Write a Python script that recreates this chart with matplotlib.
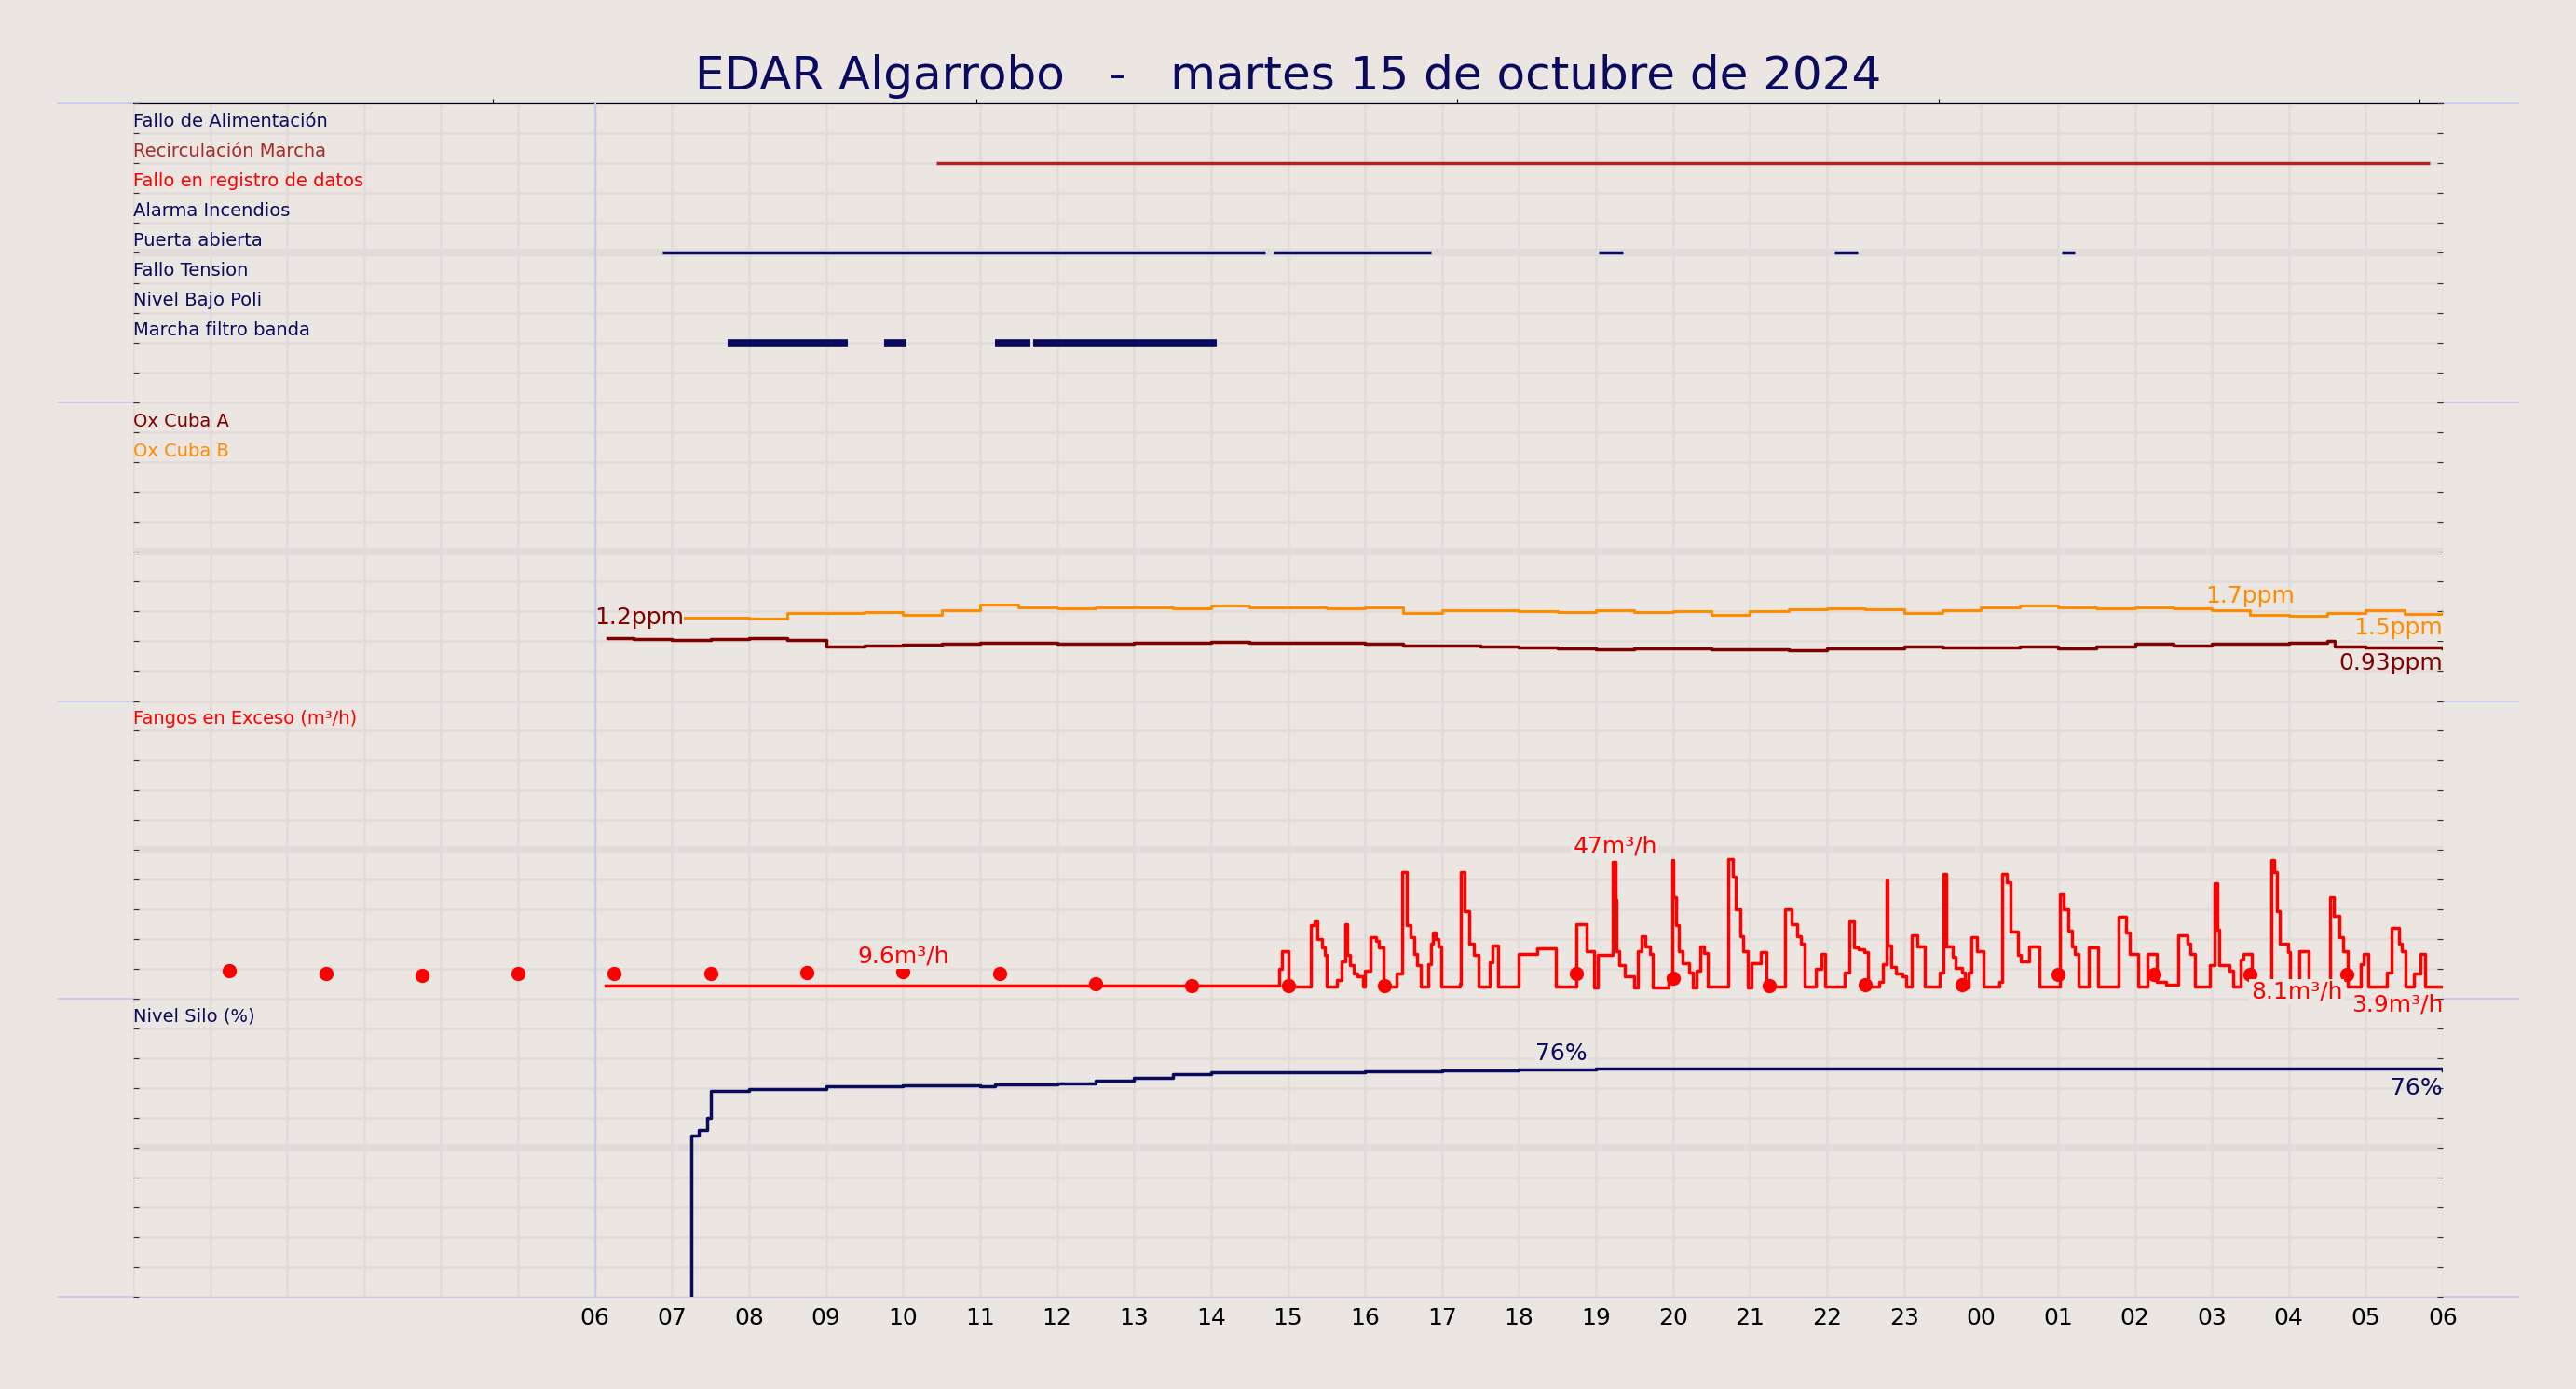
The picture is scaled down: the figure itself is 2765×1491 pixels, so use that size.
import matplotlib
matplotlib.use("Agg")
import matplotlib.pyplot as plt
import numpy as np

# ---------------- data ----------------
title = "EDAR Algarrobo   -   martes 15 de octubre de 2024"
hour_ticks = list(range(6, 31))
hour_labels = ["%02d" % (h % 24) for h in hour_ticks]

alarm_names = ["Fallo de Alimentación", "Recirculación Marcha", "Fallo en registro de datos",
               "Alarma Incendios", "Puerta abierta", "Fallo Tension", "Nivel Bajo Poli", "Marcha filtro banda"]
alarm_colors = ["#0a0a5f", "#a52a2a", "#ff0000", "#0a0a5f", "#0a0a5f", "#0a0a5f", "#0a0a5f", "#0a0a5f"]
alarm_intervals = [
    [],
    [(10.43, 29.83)],
    [],
    [],
    [(6.87, 14.70), (14.81, 16.86), (19.03, 19.35), (22.10, 22.40), (25.05, 25.22)],
    [],
    [],
    [(7.72, 9.28), (9.75, 10.05), (11.20, 11.65), (11.69, 14.08)],
]
alarm_widths = [2.5, 2.5, 2.5, 2.5, 2.5, 2.5, 2.5, 5.5]

oxA_t = [6.16, 6.5, 7, 7.5, 8, 8.5, 9, 9.5, 10, 10.5, 11, 11.5, 12, 12.5, 13, 13.5, 14, 14.5, 15, 15.5,
         16, 16.5, 17, 17.5, 18, 18.5, 19, 19.5, 20, 20.5, 21, 21.5, 22, 22.5, 23, 23.5, 24, 24.5, 25,
         25.5, 26, 26.5, 27, 27.5, 28, 28.5, 28.6, 29, 29.5, 30]
oxA_v = [1.11, 1.09, 1.08, 1.09, 1.11, 1.08, 0.96, 0.97, 0.995, 1.01, 1.02, 1.03, 1.01, 1.01, 1.03, 1.02,
         1.04, 1.03, 1.02, 1.02, 1.00, 0.97, 0.98, 0.96, 0.945, 0.92, 0.91, 0.93, 0.92, 0.91, 0.91, 0.89,
         0.92, 0.92, 0.96, 0.945, 0.94, 0.95, 0.93, 0.96, 1.00, 0.98, 1.00, 1.01, 1.03, 1.055, 0.96, 0.945,
         0.945, 0.93]
oxB_t = [7.17, 7.5, 8, 8.5, 9, 9.5, 10, 10.5, 11, 11.5, 12, 12.5, 13, 13.5, 14, 14.5, 15, 15.5, 16, 16.5,
         17, 17.5, 18, 18.5, 19, 19.5, 20, 20.5, 21, 21.5, 22, 22.5, 23, 23.5, 24, 24.5, 25, 25.5, 26,
         26.5, 27, 27.5, 28, 28.5, 29, 29.5, 30]
oxB_v = [1.46, 1.46, 1.45, 1.55, 1.55, 1.56, 1.52, 1.60, 1.69, 1.65, 1.63, 1.64, 1.64, 1.63, 1.68, 1.64,
         1.64, 1.63, 1.65, 1.55, 1.60, 1.60, 1.58, 1.57, 1.60, 1.57, 1.58, 1.52, 1.58, 1.61, 1.63, 1.62,
         1.55, 1.60, 1.65, 1.68, 1.65, 1.63, 1.64, 1.63, 1.60, 1.52, 1.49, 1.55, 1.60, 1.53, 1.58]

fang_t = [6.14, 14.89, 14.92, 15.00, 15.30, 15.34, 15.38, 15.44, 15.48, 15.50, 15.63, 15.69, 15.75, 15.77,
          15.81, 15.85, 15.90, 15.97, 16.00, 16.07, 16.14, 16.18, 16.24, 16.41, 16.48, 16.54, 16.59, 16.64,
          16.67, 16.73, 16.82, 16.86, 16.88, 16.92, 16.96, 16.99, 17.23, 17.24, 17.29, 17.35, 17.41, 17.47,
          17.62, 17.66, 17.73, 17.99, 18.24, 18.48, 18.75, 18.88, 18.98, 19.02, 19.22, 19.25, 19.27, 19.30,
          19.37, 19.49, 19.54, 19.59, 19.64, 19.70, 19.74, 19.94, 19.99, 20.00, 20.04, 20.08, 20.13, 20.21,
          20.26, 20.31, 20.35, 20.40, 20.45, 20.72, 20.78, 20.82, 20.87, 20.91, 20.97, 21.02, 21.14, 21.22,
          21.46, 21.54, 21.61, 21.66, 21.71, 21.86, 21.93, 21.98, 22.23, 22.29, 22.35,
          22.41, 22.48, 22.53, 22.68, 22.73, 22.77, 22.79, 22.83, 22.89, 22.98, 23.03, 23.10, 23.18, 23.27,
          23.46, 23.51, 23.55, 23.63, 23.67, 23.75, 23.79, 23.84, 23.88, 23.95, 24.03, 24.24, 24.28, 24.34,
          24.39, 24.48, 24.52, 24.63, 24.76, 25.03, 25.07, 25.13, 25.18, 25.22, 25.27, 25.40, 25.52, 25.79,
          25.89, 25.93, 26.04, 26.16, 26.29, 26.41, 26.56, 26.68, 26.72, 26.78, 26.98, 27.03, 27.07, 27.10,
          27.23, 27.28, 27.37, 27.41, 27.52, 27.77, 27.81, 27.84, 27.88, 27.99, 28.02, 28.14, 28.26, 28.54,
          28.58, 28.66, 28.71, 28.77, 28.93, 28.97, 29.03, 29.27, 29.33, 29.43, 29.47, 29.51, 29.63, 29.71,
          29.77, 30.0]
fang_v = [4.4, 10, 15.7, 4, 24.6, 26, 20, 17, 14.6, 4, 6, 12.5, 25, 14.6,
          11, 8.4, 7.3, 4, 9.4, 20.6, 19.4, 17, 4, 8.4, 42.4, 24.6, 20.6, 15,
          11, 4, 11.5, 18.3, 22, 20, 17.3, 4, 5, 42.4, 29.3, 18.3, 14.5, 4,
          12, 17.8, 4, 15, 16.8, 4, 25, 15.7, 3.6, 14.5, 45.8, 33, 16, 11,
          7.3, 3.6, 15.7, 21, 17.3, 15, 3.6, 7.8, 46.6, 34, 24.6, 16, 11.8, 8.8,
          3.6, 9.4, 17.5, 15.2, 3.8, 46.8, 41, 30, 21, 15.7, 3.6, 11.8, 15.5, 3.8,
          30, 25, 21, 18.3, 4, 10, 15, 4, 8.7, 26, 17,
          16.4, 15.4, 4, 5.6, 11.5, 39.6, 17.8, 10.5, 8.2, 7.3, 3.8, 21.3, 17.5, 4,
          8.8, 42, 17.3, 14, 10.2, 8.8, 3.6, 8.8, 20.6, 16, 4, 5.6, 42, 39,
          22.5, 14.5, 12.5, 17.5, 4, 35, 30, 22.7, 17.3, 15, 4, 17, 4, 27.5,
          22, 15, 4, 15, 5.6, 4.6, 21.3, 18.3, 15, 4, 11, 38.7, 23, 11,
          9.4, 4, 13, 15, 4, 46.6, 42.6, 29.3, 18.5, 15.4, 4, 15.7, 4, 34,
          27.7, 20.6, 16, 4, 11.5, 15, 4, 8.7, 23.8, 18.3, 15.7, 4, 8.4, 15,
          3.9, 3.9]
dots_t = [1.25 * k for k in range(1, 24)]
dots_v = [9.3, 8.2, 7.7, 8.2, 8.2, 8.2, 8.8, 9.0, 8.2, 4.9, 4.4, 4.4, 4.4, np.nan, 8.4, 6.8, 4.2,
          4.7, 4.7, 7.9, 7.9, 8.0, 8.0]

silo_t = [7.25, 7.25, 7.35, 7.45, 7.50, 8, 9, 10, 11, 11.2, 12, 12.5, 13, 13.5, 14, 16, 17, 18, 19, 30]
silo_v = [-5, 54, 56, 60, 69, 69.5, 70.5, 71, 70.6, 71.2, 71.5, 72.5, 73.5, 74.5, 75.1, 75.5, 75.8, 76.2, 76.6, 76.0]

# ---------------- drawing ----------------
BG = "#ebe6e1"
GRID = "#e1dcda"
NAVY = "#0a0a5f"
LFS = 14      # row label size
AFS = 18      # annotation size
fig = plt.figure(figsize=(27.65, 14.91), dpi=100, facecolor=BG)
L, R = 0.0517, 0.9483
bounds = [0.9255, 0.7104, 0.4953, 0.2813, 0.0662]
ylims = [(0, 10), (0, 5.25), (0, 100), (0, 100)]
axes = []
for i in range(4):
    ax = fig.add_axes([L, bounds[i + 1], R - L, bounds[i] - bounds[i + 1]], facecolor=BG)
    lo, hi = ylims[i]
    ax.set_xlim(0, 30)
    ax.set_ylim(lo, hi)
    ax.set_yticks(np.linspace(lo, hi, 11))
    ax.set_yticklabels([])
    ax.set_xticks(range(0, 31))
    for h in range(0, 31):
        ax.axvline(h, color=GRID, lw=2, zorder=0)
    for k, yv in enumerate(np.linspace(lo, hi, 11)):
        ax.axhline(yv, color=GRID, lw=6 if k == 5 else 2, zorder=0)
    ax.axvline(6, color="#c8c8f0", lw=1.5, zorder=0.5)
    ax.tick_params(axis="y", left=True, right=True, length=4, direction="in", color="#333333")
    ax.tick_params(axis="x", length=0)
    for s in ax.spines.values():
        s.set_visible(False)
    ax.set_zorder(5 - i)
    axes.append(ax)

for i, ax in enumerate(axes[:3]):
    ax.set_xticklabels([])
axes[3].set_xticks(hour_ticks)
axes[3].set_xticklabels(hour_labels, fontsize=18)
axes[3].tick_params(axis="x", pad=8)

# separators
for b in bounds:
    fig.add_artist(plt.Line2D([0.0223, 0.9777], [b, b], color="#c4c4f2", lw=1.2, transform=fig.transFigure))

# top minor ticks
axes[0].secondary_xaxis("top").set_xticks([4.67, 10.95, 17.2, 23.45, 29.7], labels=[])

fig.text(0.5, 0.945, title, ha="center", va="center", fontsize=36, color=NAVY)

# panel 1 alarms
ax = axes[0]
for r, (name, col, ivs, lw) in enumerate(zip(alarm_names, alarm_colors, alarm_intervals, alarm_widths)):
    yrow = 9 - r
    ax.text(0.0, yrow + 0.1, name, color=col, fontsize=LFS, va="bottom", ha="left")
    for a, b in ivs:
        ax.plot([a, b], [yrow, yrow], color=("#b22222" if r == 1 else NAVY), lw=lw, solid_capstyle="butt")

# panel 2 oxygen
ax = axes[1]
ax.text(0.0, 9 * 0.525 + 0.03, "Ox Cuba A", color="#800000", fontsize=LFS, va="bottom")
ax.text(0.0, 8 * 0.525 + 0.03, "Ox Cuba B", color="#ff8c00", fontsize=LFS, va="bottom")
ax.plot(oxA_t, oxA_v, drawstyle="steps-post", color="#800000", lw=2.5)
ax.plot(oxB_t, oxB_v, drawstyle="steps-post", color="#ff8c00", lw=2.2)
ax.text(7.15, 1.47, "1.2ppm", color="#800000", fontsize=AFS, ha="right", va="center")
ax.text(27.5, 1.84, "1.7ppm", color="#ff8c00", fontsize=AFS, ha="center", va="center")
ax.text(30, 1.28, "1.5ppm", color="#ff8c00", fontsize=AFS, ha="right", va="center",
        bbox=dict(facecolor=BG, edgecolor="none", pad=1))
ax.text(30, 0.67, "0.93ppm", color="#800000", fontsize=AFS, ha="right", va="center")

# panel 3 fangos
ax = axes[2]
ax.text(0.0, 91, "Fangos en Exceso (m³/h)", color="#ff0000", fontsize=LFS, va="bottom")
ax.plot(fang_t, fang_v, drawstyle="steps-post", color="#ff0000", lw=2.5)
ax.plot(dots_t, dots_v, "o", color="#ff0000", ms=10, zorder=3)
ax.text(10.0, 10.5, "9.6m³/h", color="#ff0000", fontsize=AFS, ha="center", va="bottom",
        bbox=dict(facecolor=BG, edgecolor="none", pad=1), zorder=4)
ax.text(19.25, 47.5, "47m³/h", color="#ff0000", fontsize=AFS, ha="center", va="bottom",
        bbox=dict(facecolor=BG, edgecolor="none", pad=1), zorder=4)
ax.text(28.1, 2.2, "8.1m³/h", color="#ff0000", fontsize=AFS, ha="center", va="center",
        bbox=dict(facecolor=BG, edgecolor="none", pad=1), zorder=4)
ax.text(30, -2.2, "3.9m³/h", color="#ff0000", fontsize=AFS, ha="right", va="center", zorder=4,
        clip_on=False)

# panel 4 silo
ax = axes[3]
ax.text(0.0, 91, "Nivel Silo (%)", color=NAVY, fontsize=LFS, va="bottom")
ax.plot(silo_t, silo_v, drawstyle="steps-post", color=NAVY, lw=2.5)
ax.text(18.55, 81.5, "76%", color=NAVY, fontsize=AFS, ha="center", va="center",
        bbox=dict(facecolor=BG, edgecolor="none", pad=1), zorder=4)
ax.text(30, 70, "76%", color=NAVY, fontsize=AFS, ha="right", va="center")

fig.savefig("out.png", dpi=100, facecolor=BG)
